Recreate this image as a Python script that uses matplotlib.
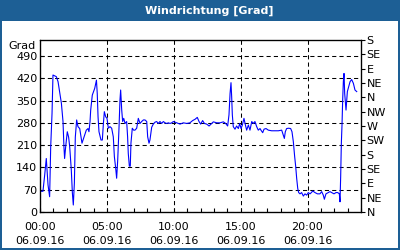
import matplotlib
matplotlib.use("Agg")
import matplotlib.pyplot as plt
from matplotlib.patches import Rectangle

############################
# Data
############################
hours = [0.05, 0.22, 0.35, 0.47, 0.6, 0.72, 0.8, 0.9, 0.97, 1.22, 1.35, 1.6, 1.72, 1.79, 1.84,
         1.92, 2.04, 2.14, 2.22, 2.34, 2.42, 2.49, 2.57, 2.64, 2.74, 2.84, 2.97, 3.14, 3.29, 3.46,
         3.59, 3.66, 3.74, 3.79, 3.91, 4.09, 4.22, 4.28, 4.34, 4.41, 4.56, 4.66, 4.74, 4.81, 4.91,
         5.01, 5.11, 5.23, 5.36, 5.48, 5.56, 5.66, 5.73, 5.81, 5.91, 5.98, 6.03, 6.11, 6.18, 6.26,
         6.36, 6.48, 6.55, 6.6, 6.68, 6.75, 6.8, 6.9, 7.0, 7.1, 7.23, 7.35, 7.48, 7.6, 7.73,
         7.85, 7.98, 8.05, 8.15, 8.22, 8.35, 8.47, 8.6, 8.72, 8.85, 8.97, 9.1, 9.22, 9.35, 9.47,
         9.6, 9.72, 9.85, 9.97, 10.22, 10.47, 10.72, 10.97, 11.21, 11.41, 11.59, 11.76, 11.89, 12.01,
         12.16, 12.29, 12.46, 12.64, 12.79, 12.96, 13.21, 13.46, 13.71, 13.88, 14.03, 14.13, 14.21,
         14.28, 14.33, 14.38, 14.45, 14.58, 14.7, 14.83, 14.93, 15.03, 15.13, 15.25, 15.33, 15.45,
         15.58, 15.7, 15.83, 15.95, 16.07, 16.2, 16.32, 16.45, 16.52, 16.65, 16.75, 16.9, 17.07,
         17.32, 17.57, 17.82, 18.07, 18.19, 18.27, 18.34, 18.44, 18.59, 18.74, 18.84, 18.94, 19.04,
         19.12, 19.19, 19.27, 19.34, 19.44, 19.56, 19.69, 19.81, 19.94, 20.06, 20.19, 20.31, 20.39,
         20.56, 20.74, 20.93, 21.06, 21.18, 21.26, 21.38, 21.56, 21.68, 21.81, 21.98, 22.13, 22.26,
         22.38, 22.43, 22.48, 22.53, 22.58, 22.63, 22.68, 22.73, 22.78, 22.88, 22.98, 23.18, 23.3,
         23.43, 23.55, 23.68]
direction = [65, 65, 116, 168, 85, 48, 205, 310, 430, 425, 409, 341, 284, 205, 168,
             205, 252, 235, 205, 132, 60, 22, 91, 235, 289, 268, 262, 216, 235, 257,
             262, 252, 284, 320, 367, 388, 414, 372, 299, 252, 226, 226, 278, 315, 299,
             294, 263, 268, 263, 236, 174, 137, 106, 163, 268, 352, 383, 320, 284, 294,
             278, 284, 236, 184, 144, 144, 216, 263, 257, 257, 263, 294, 278, 284, 289,
             289, 284, 236, 216, 226, 266, 276, 282, 284, 278, 284, 278, 284, 280, 278,
             280, 278, 280, 284, 280, 276, 280, 278, 280, 287, 291, 297, 284, 276,
             287, 278, 276, 270, 276, 283, 280, 280, 283, 278, 270, 305, 372,
             406, 362, 305, 268, 260, 270, 262, 278, 262, 273, 294, 278, 257,
             273, 257, 284, 278, 284, 268, 257, 262, 257, 249, 260, 262, 257,
             255, 255, 255, 257, 242, 231, 252, 262, 263, 262, 252, 221, 174,
             142, 106, 74, 61, 57, 61, 50, 57, 53, 61, 57, 62, 66,
             61, 57, 57, 64, 53, 40, 57, 61, 64, 61, 57, 61, 61,
             57, 32, 111, 216, 273, 352, 409, 435, 372, 320, 378, 409, 416,
             404, 383, 378]

left_ticks = [0, 70, 140, 210, 280, 350, 420, 490]
right_ticks = [0, 45, 90, 135, 180, 225, 270, 315, 360, 405, 450, 495, 540]
right_labels = ["N", "NE", "E", "SE", "S", "SW", "W", "NW", "N", "NE", "E", "SE", "S"]
x_ticks = [0, 5, 10, 15, 20]
x_labels = ["00:00\n06.09.16", "05:00\n06.09.16", "10:00\n06.09.16",
            "15:00\n06.09.16", "20:00\n06.09.16"]

frame_blue = "#1d5f95"

############################
# Plot
############################
fig = plt.figure(figsize=(4, 2.5), dpi=100, facecolor=frame_blue)
fig.patches.append(Rectangle((2 / 400, 2 / 250), 396 / 400, 227 / 250,
                             transform=fig.transFigure, facecolor="white",
                             edgecolor="none", zorder=-10))
fig.text(0.524, 1 - 10.5 / 250, "Windrichtung [Grad]", color="white",
         fontsize=8, fontweight="bold", ha="center", va="center")

ax = fig.add_axes([40 / 400, 38 / 250, 321 / 400, 172 / 250])
ax.plot(hours, direction, color="#0000ff", lw=0.8)
ax.set_xlim(0, 24)
ax.set_ylim(0, 540)
ax.set_xticks(x_ticks)
ax.set_xticklabels(x_labels, fontsize=8, linespacing=1.55)
ax.set_xticks(range(25), minor=True)
ax.set_yticks(left_ticks)
ax.set_yticklabels([str(v) for v in left_ticks], fontsize=8)
ax.tick_params(axis="x", which="both", direction="in", length=3, width=0.8, pad=7)
ax.tick_params(axis="y", direction="in", length=3, width=0.8, pad=2)
ax.grid(True, color="black", lw=0.75, linestyle=(0, (4, 3)))
ax.patch.set_alpha(0)
for s in ax.spines.values():
    s.set_linewidth(0.9)

ax2 = ax.twinx()
ax2.set_ylim(0, 540)
ax2.set_yticks(right_ticks)
ax2.set_yticklabels(right_labels, fontsize=8)
ax2.tick_params(axis="y", direction="out", length=3, width=0.8, pad=1)

fig.text(36 / 400, 1 - 46 / 250, "Grad", fontsize=8, ha="right", va="center")

fig.savefig("out.png", dpi=100, facecolor=frame_blue)
